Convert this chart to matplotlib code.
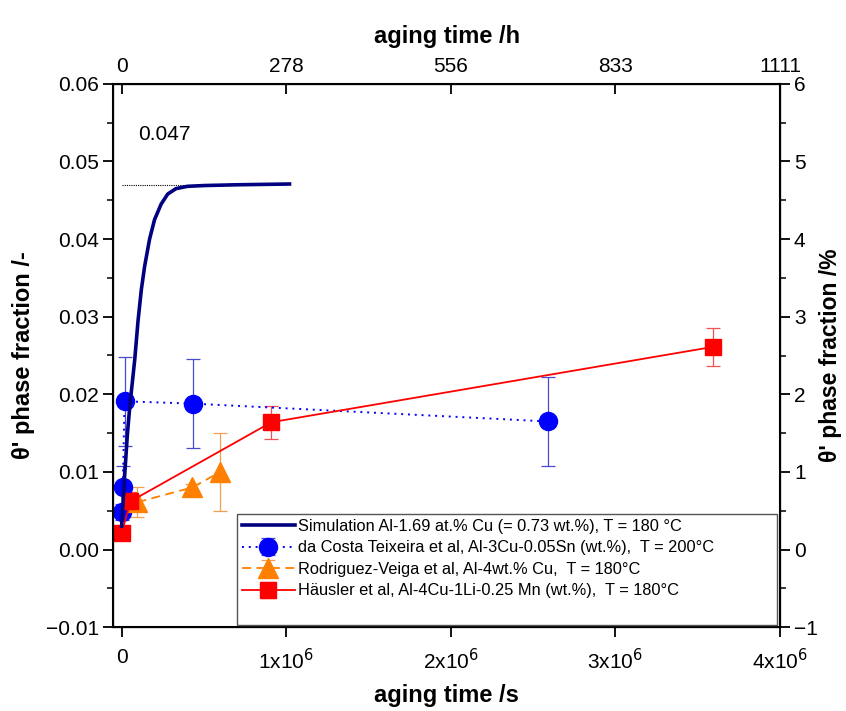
import matplotlib
matplotlib.use('Agg')
import matplotlib.pyplot as plt
from matplotlib.ticker import FixedLocator, FuncFormatter
from matplotlib.lines import Line2D

plt.rcParams['font.family'] = ['Liberation Sans', 'DejaVu Sans']

# simulation curve (time in s, phase fraction)
sim_t = [0, 0.01e6, 0.02e6, 0.035e6, 0.05e6, 0.065e6, 0.08e6, 0.1e6, 0.12e6, 0.14e6,
         0.17e6, 0.2e6, 0.24e6, 0.28e6, 0.33e6, 0.4e6, 0.5e6, 0.7e6, 1.02e6]
sim_f = [0.003, 0.0065, 0.010, 0.0148, 0.0185, 0.0215, 0.0245, 0.0295, 0.0335, 0.0365,
         0.040, 0.0425, 0.0445, 0.0458, 0.0465, 0.0468, 0.0469, 0.0470, 0.0471]
plateau = 0.047

# da Costa Teixeira et al
costa_t = [3600, 7200, 18000, 432000, 2592000]
costa_f = [0.0048, 0.0080, 0.0191, 0.0188, 0.0165]
costa_err = [0.0010, 0.0027, 0.0057, 0.0057, 0.0057]

# Rodriguez-Veiga et al
rod_t = [96000, 430000, 600000]
rod_f = [0.0061, 0.0080, 0.0100]
rod_err = [0.0019, 0.0004, 0.0050]

# Haeusler et al
hau_t = [0, 54000, 910000, 3590000]
hau_f = [0.0021, 0.0062, 0.0164, 0.0261]
hau_err = [0.0, 0.0012, 0.0021, 0.0025]

bottom_ticks = [0, 1e6, 2e6, 3e6, 4e6]
bottom_labels = ['0', '1x10$^6$', '2x10$^6$', '3x10$^6$', '4x10$^6$']
top_labels = ['0', '278', '556', '833', '1111']
left_ticks = [-0.01, 0.0, 0.01, 0.02, 0.03, 0.04, 0.05, 0.06]
left_minor = [-0.005, 0.005, 0.015, 0.025, 0.035, 0.045, 0.055]
right_ticks = [-1, 0, 1, 2, 3, 4, 5, 6]
right_minor = [-0.5, 0.5, 1.5, 2.5, 3.5, 4.5, 5.5]

fig = plt.figure(figsize=(8.46, 7.11), dpi=100)
ax = fig.add_axes([0.134, 0.118, 0.788, 0.764])

ax.plot(sim_t, sim_f, color='#000080', lw=2.6, zorder=5,
        label='Simulation Al-1.69 at.% Cu (= 0.73 wt.%), T = 180 °C')
ax.plot([0, 0.42e6], [plateau, plateau], color='black', lw=0.8, ls=(0, (1, 1)), zorder=4)
ax.text(0.1e6, 0.0528, '0.047', fontsize=15)

ax.errorbar(costa_t, costa_f, yerr=costa_err, color='#0000ff', ls=(0, (1, 2.5)), lw=1.4,
            marker='o', ms=13, ecolor='#4a4ad0', elinewidth=0.9, capsize=5, capthick=0.9,
            label='da Costa Teixeira et al, Al-3Cu-0.05Sn (wt.%),  T = 200°C')
ax.errorbar(rod_t, rod_f, yerr=rod_err, color='#ff8000', ls=(0, (5, 3)), lw=1.3,
            marker='^', ms=14, ecolor='#f0a050', elinewidth=0.9, capsize=5, capthick=0.9,
            label='Rodriguez-Veiga et al, Al-4wt.% Cu,  T = 180°C')
ax.errorbar(hau_t, hau_f, yerr=hau_err, color='#ff0000', ls='-', lw=1.3,
            marker='s', ms=11, ecolor='#f05050', elinewidth=0.9, capsize=5, capthick=0.9,
            label='Häusler et al, Al-4Cu-1Li-0.25 Mn (wt.%),  T = 180°C')

ax.set_xlim(-0.05e6, 4e6)
ax.set_ylim(-0.01, 0.06)
ax.xaxis.set_major_locator(FixedLocator(bottom_ticks))
ax.set_xticklabels(bottom_labels)
ax.yaxis.set_major_locator(FixedLocator(left_ticks))
ax.yaxis.set_minor_locator(FixedLocator(left_minor))
ax.yaxis.set_major_formatter(FuncFormatter(lambda v, p: f'{v:.2f}'.replace('-', '−')))
ax.tick_params(which='major', length=7, width=1.3, labelsize=15, direction='out')
ax.tick_params(which='minor', length=4, width=1.1, direction='out')
ax.tick_params(axis='x', pad=8)
ax.set_xlabel('aging time /s', fontsize=17, fontweight='bold', labelpad=8)
ax.set_ylabel("θ' phase fraction /-", fontsize=17, fontweight='bold', labelpad=8)
for s in ax.spines.values():
    s.set_linewidth(1.5)

# right axis in percent
axr = ax.twinx()
axr.set_ylim(-1, 6)
axr.yaxis.set_major_locator(FixedLocator(right_ticks))
axr.yaxis.set_minor_locator(FixedLocator(right_minor))
axr.yaxis.set_major_formatter(FuncFormatter(lambda v, p: f'{v:.0f}'.replace('-', '−')))
axr.tick_params(which='major', length=7, width=1.3, labelsize=15, direction='out', pad=3)
axr.tick_params(which='minor', length=4, width=1.1, direction='out')
axr.set_ylabel("θ' phase fraction /%", fontsize=16.5, fontweight='bold', labelpad=1)

# top axis in hours
axt = ax.twiny()
axt.set_xlim(ax.get_xlim())
axt.xaxis.set_major_locator(FixedLocator(bottom_ticks))
axt.set_xticklabels(top_labels)
axt.tick_params(which='major', length=7, width=1.3, labelsize=15, direction='in', pad=6)
axt.set_xlabel('aging time /h', fontsize=17, fontweight='bold', labelpad=10)

handles, labels = ax.get_legend_handles_labels()
handles.append(Line2D([], [], color='none'))
labels.append(' ')
leg = ax.legend(handles, labels, loc='lower left', bbox_to_anchor=(0.186, 0.004, 0.81, 0.2),
                mode='expand', fontsize=11.8, handlelength=3.2,
                labelspacing=0.4, borderaxespad=0.0, fancybox=False, framealpha=1,
                edgecolor='#555555', handletextpad=0.2, borderpad=0.3)
leg.get_frame().set_linewidth(1.0)

fig.savefig('out.png', dpi=100)
